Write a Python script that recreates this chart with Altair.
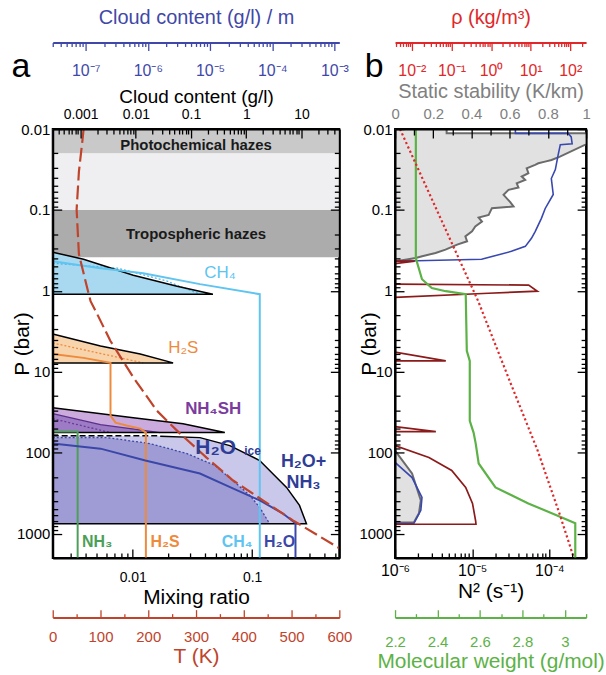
import altair as alt
import pandas as pd

FONT = "Liberation Sans"
SUP = str.maketrans("-0123456789", "⁻⁰¹²³⁴⁵⁶⁷⁸⁹")

WA, WB, H = 288, 192, 431

# ---------------- axis domains ----------------
P_DOM = [0.01, 2000]
CC_DOM = [3.13e-4, 48.4]          # cloud content (g/l)
MR_DOM = [0.00214, 0.538]         # mixing ratio
CCM_DOM = [2.95e-8, 1.2e-3]       # cloud content (g/l) / m
T_DOM = [0, 600]
SS_DOM = [0, 1]
N2_DOM = [1e-6, 3e-4]
RHO_DOM = [3.76e-3, 251.0]
MW_DOM = [2.2, 3.1]

T_TICKS = [0, 50, 100, 150, 200, 250, 300, 350, 400, 450, 500, 550, 600]
SS_TICKS = [0, 0.1, 0.2, 0.3, 0.4, 0.5, 0.6, 0.7, 0.8, 0.9, 1.0]
MW_TICKS = [2.2, 2.3, 2.4, 2.5, 2.6, 2.7, 2.8, 2.9, 3.0, 3.1]


def log_ticks(lo, hi):
    out = []
    for e in range(-9, 5):
        for m in range(1, 10):
            v = float(f"{m * 10.0 ** e:.6g}")
            if lo * 0.999 <= v <= hi * 1.001:
                out.append(v)
    return out


# ---------------- panel a data ----------------
haze_ptop = [0.01, 0.0201, 0.1]
haze_pbot = [0.0201, 0.1, 0.385]
haze_colors = ["#c9c9c9", "#efeff1", "#acacac"]
haze_text = ["Photochemical hazes", "Tropospheric hazes"]
haze_text_p = [0.0156, 0.200]

# cloud fills (cloud content g/l vs P)
ch4_fill_cc = [3.13e-4, 1.13e-3, 9.0e-3, 0.0558, 0.249]
ch4_fill_p = [0.333, 0.407, 0.641, 0.875, 1.10]
h2s_fill_cc = [3.13e-4, 2.29e-3, 0.0120, 0.0473]
h2s_fill_p = [3.41, 4.80, 6.02, 7.77]
nh4sh_fill_cc = [3.13e-4, 9.0e-3, 0.0716, 0.409]
nh4sh_fill_p = [27.8, 37.0, 43.8, 56.5]
nh4sh_core_cc = [3.13e-4, 2.29e-3, 0.0276]
nh4sh_core_p = [33.0, 45.1, 56.5]
h2o_fill_cc = [3.13e-4, 0.0276, 0.145, 0.504, 1.75, 5.36, 9.2, 12.3]
h2o_fill_p = [61.6, 62.5, 65.2, 81.8, 125, 269, 449, 757]
h2o_core_cc = [3.13e-4, 3.06e-3, 0.0182, 0.0845, 0.270, 0.570, 1.16, 1.75, 2.65]
h2o_core_p = [65.2, 65.2, 77.3, 102.6, 144, 221, 338, 475, 757]

# dotted lines inside clouds
ch4_dot_cc = [3.13e-4, 4.6e-3, 0.0369, 0.145]
ch4_dot_p = [0.456, 0.525, 0.760, 1.10]
h2s_dot_cc = [3.13e-4, 0.0136]
h2s_dot_p = [4.41, 7.77]
nh4sh_dot_cc = [3.13e-4, 3.47e-3]
nh4sh_dot_p = [38.0, 56.5]

# mixing ratio profiles
ch4_mr = [0.00214, 0.00538, 0.01227, 0.0366, 0.116, 0.116]
ch4_mr_p = [0.431, 0.525, 0.605, 0.826, 1.10, 2000]
h2s_mr = [0.00214, 0.00388, 0.00652, 0.00652, 0.00718, 0.00903, 0.0116, 0.0129, 0.0129]
h2s_mr_p = [6.02, 6.74, 7.77, 34.9, 42.6, 46.4, 50.5, 56.5, 2000]
nh3_mr = [0.00214, 0.00346, 0.00346]
nh3_mr_p = [54.9, 54.9, 2000]
h2o_mr = [0.00214, 0.00538, 0.01277, 0.0366, 0.069, 0.116, 0.180, 0.231, 0.231]
h2o_mr_p = [77.3, 89.2, 125, 181, 277, 389, 562, 747, 2000]

# temperature profile
t_K = [64.6, 61.9, 54.8, 50.0, 54.8, 72.3, 79.2, 93.1, 120.8, 169.4, 218, 266.7, 322, 377.7, 440, 502.8, 600]
t_p = [0.01, 0.0143, 0.0336, 0.0987, 0.353, 0.927, 1.34, 1.94, 4.17, 11.9, 30.3, 58.2, 115, 221, 389, 687, 1517]

# ---------------- panel b data ----------------
ss_g1 = [0.27, 0.27, 1.1, 1.1, 0.993, 0.863, 0.819, 0.785, 0.75, 0.733, 0.689, 0.698, 0.663, 0.681,
         0.637, 0.646, 0.594, 0.568, 0.603, 0.620, 0.507, 0.490, 0.4375, 0.455, 0.420, 0.403, 0.368,
         0.377, 0.325, 0.264, 0.212, 0.142, 0.108, 0.007, 0.0]
ss_g1_p = [0.01, 0.0113, 0.0113, 0.0155, 0.0157, 0.0219, 0.0241, 0.0253, 0.0265, 0.0277, 0.0305, 0.0352,
           0.0387, 0.0425, 0.0468, 0.0528, 0.0564, 0.0650, 0.0801, 0.0906, 0.0950, 0.115, 0.124, 0.139,
           0.160, 0.184, 0.212, 0.244, 0.268, 0.309, 0.340, 0.374, 0.393, 0.431, 0.44]
ss_g2 = [0.0, 0.089, 0.135, 0.125, 0.099, 0.0]
ss_g2_p = [94.2, 181, 389, 562, 726, 730]
ss_b1 = [0.630, 0.630, 0.906, 0.922, 0.927, 0.865, 0.854, 0.839, 0.818, 0.828, 0.786, 0.766, 0.734,
         0.714, 0.682, 0.609, 0.453, 0.229, 0.005]
ss_b1_p = [0.01, 0.0113, 0.0113, 0.0125, 0.0152, 0.0156, 0.0207, 0.0317, 0.0409, 0.0644, 0.0959, 0.127,
           0.184, 0.224, 0.282, 0.325, 0.407, 0.419, 0.431]
ss_b2 = [0.0, 0.089, 0.141, 0.135, 0.099, 0.0]
ss_b2_p = [132, 203, 357, 516, 747, 750]

n2_s1 = [5e-7, 1.8e-6, 5e-7]
n2_s1_p = [0.50, 0.43, 0.43]
n2_s2 = [5e-7, 5.4e-5, 7.0e-5, 1.63e-5, 5e-7]
n2_s2_p = [0.82, 0.85, 1.01, 1.07, 1.24]
n2_s3 = [5e-7, 4.55e-6, 5e-7]
n2_s3_p = [5.1, 7.35, 7.35]
n2_s4 = [5e-7, 3.38e-6, 5e-7]
n2_s4_p = [44.0, 54.9, 54.9]
n2_s5 = [5e-7, 1.0e-6, 2.75e-6, 5.43e-6, 8.24e-6, 1.01e-5, 1.11e-5, 1.12e-5, 5e-7]
n2_s5_p = [76.0, 81.8, 115, 166, 269, 424, 700, 767, 767]

mw = [2.298, 2.298, 2.327, 2.373, 2.439, 2.533, 2.538, 2.552, 2.552, 2.570, 2.580, 2.594, 2.673,
      2.828, 2.983, 3.049, 3.049]
mw_p = [0.01, 0.396, 0.718, 0.925, 1.01, 1.10, 5.53, 7.35, 40.3, 56.5, 77.3, 136, 269, 424, 629, 747, 2000]

rho = [0.00501, 0.473, 3.16, 15.0, 53.1, 119]
rho_p = [0.01, 1.34, 14.1, 94.2, 562, 1905]

# ---------------- helpers ----------------
LOGDEC = "abs(log(datum.value)/LN10 - round(log(datum.value)/LN10)) < 0.01"


def sup_expr(exps):
    expr = "''"
    for e in exps:
        s = "10" + str(e).translate(SUP)
        expr = f"(round(log(datum.value)/LN10) == {e}) ? '{s}' : ({expr})"
    return f"({LOGDEC}) ? ({expr}) : ''"


def rows(name, xs, ps, key, col="black"):
    return [{"name": name, key: x, "p": p, "i": k, "col": col}
            for k, (x, p) in enumerate(zip(xs, ps))]


def frame_axis(**kw):
    base = dict(domainColor="black", domainWidth=2, tickColor="black", tickWidth=1.3,
                labelColor="black", labelFont=FONT, titleFont=FONT, titleColor="black",
                titleFontWeight="normal", labelFlush=False, labelOverlap=False, grid=False, zindex=1)
    base.update(kw)
    return alt.Axis(**base)


def extra_axis(color, **kw):
    base = dict(domainColor=color, domainWidth=2, tickColor=color, tickWidth=1.3,
                labelColor=color, labelFont=FONT, titleFont=FONT, titleColor=color,
                titleFontWeight="normal", labelFlush=False, labelOverlap=False, grid=False,
                titleBaseline="middle", labelFontSize=14, titleFontSize=20)
    base.update(kw)
    return alt.Axis(**base)


Y_SCALE = alt.Scale(type="log", domain=P_DOM, reverse=True, nice=False)
P_TICKS = log_ticks(*P_DOM)
P_LAB = f"({LOGDEC}) ? format(datum.value, '~g') : ''"
IN_LOG = {"expr": f"({LOGDEC}) ? -9 : -5"}


def y_left(title_x):
    return frame_axis(orient="left", values=P_TICKS, labelExpr=P_LAB, tickSize=IN_LOG,
                      labelPadding=12, labelFontSize=15, title="P (bar)", titleX=title_x,
                      titleBaseline="middle", titleFontSize=21)


def y_right():
    return frame_axis(orient="right", values=P_TICKS, labels=False, tickSize=IN_LOG, title=None)


def yenc(axis=None, field="p"):
    return alt.Y(f"{field}:Q", scale=Y_SCALE, axis=axis)


COLOR = alt.Color("col:N", scale=None)

CC_SCALE = alt.Scale(type="log", domain=CC_DOM, nice=False)
MR_SCALE = alt.Scale(type="log", domain=MR_DOM, nice=False)
CCM_SCALE = alt.Scale(type="log", domain=CCM_DOM, nice=False)
T_SCALE = alt.Scale(type="linear", domain=T_DOM, nice=False, zero=False)
SS_SCALE = alt.Scale(type="linear", domain=SS_DOM, nice=False, zero=False)
N2_SCALE = alt.Scale(type="log", domain=N2_DOM, nice=False)
RHO_SCALE = alt.Scale(type="log", domain=RHO_DOM, nice=False)
MW_SCALE = alt.Scale(type="linear", domain=MW_DOM, nice=False, zero=False)

# ================= panel a =================
bounds = alt.Chart(pd.DataFrame({"k": [0]})).mark_rect(opacity=0).encode(
    x=alt.value(-52), x2=alt.value(554), y=alt.value(-127), y2=alt.value(548))

haze = alt.Chart(pd.DataFrame({"p_top": haze_ptop, "p_bot": haze_pbot, "col": haze_colors})).mark_rect().encode(
    x=alt.value(0), x2=alt.value(WA),
    y=yenc(field="p_top"), y2="p_bot:Q", color=COLOR)

haze_txt = alt.Chart(pd.DataFrame({"t": haze_text, "p": haze_text_p})).mark_text(
    font=FONT, fontSize=15, fontWeight="bold", color="#1a1a1a").encode(
    x=alt.value(WA / 2), y=yenc(), text="t:N")

fill_df = pd.DataFrame(
    rows("a1", ch4_fill_cc, ch4_fill_p, "cc", "#a8d9f0")
    + rows("a2", h2s_fill_cc, h2s_fill_p, "cc", "#f8d4ad")
    + rows("a3", nh4sh_fill_cc, nh4sh_fill_p, "cc", "#cbaadd")
    + rows("a4", nh4sh_core_cc, nh4sh_core_p, "cc", "#9d7cc5")
    + rows("a5", h2o_fill_cc, h2o_fill_p, "cc", "#c9c7ea")
    + rows("a6", h2o_core_cc, h2o_core_p, "cc", "#9f9cd5"))
fill_df["cc0"] = CC_DOM[0]

cc_axis = frame_axis(orient="top", values=log_ticks(*CC_DOM), labelExpr=P_LAB, tickSize=IN_LOG,
                     labelPadding=17, labelFontSize=14, title="Cloud content (g/l)", titleY=-33,
                     titleBaseline="middle", titleFontSize=19)

fills = alt.Chart(fill_df).mark_area(orient="horizontal", clip=True).encode(
    x=alt.X("cc:Q", scale=CC_SCALE, axis=cc_axis, stack=None),
    x2="cc0:Q", y=yenc(y_left(-30)), detail="name:N", color=COLOR)

dot_df = pd.DataFrame(
    rows("d1", ch4_dot_cc, ch4_dot_p, "cc", "#4fb6e6")
    + rows("d2", h2s_dot_cc, h2s_dot_p, "cc", "#ee8a3c")
    + rows("d3", nh4sh_dot_cc, nh4sh_dot_p, "cc", "#6a3a9a")
    + rows("d4", h2o_core_cc, h2o_core_p, "cc", "#3b47a8"))
dots = alt.Chart(dot_df).mark_line(strokeDash=[2, 2], strokeWidth=1.3, clip=True).encode(
    x=alt.X("cc:Q", scale=CC_SCALE, axis=None), y=yenc(), order="i:Q", detail="name:N", color=COLOR)

core_line = alt.Chart(pd.DataFrame(rows("c", nh4sh_core_cc, nh4sh_core_p, "cc"))).mark_line(
    strokeWidth=1.3, color="#5c2f8a", clip=True).encode(
    x=alt.X("cc:Q", scale=CC_SCALE, axis=None), y=yenc(), order="i:Q")

out_df = pd.DataFrame(
    rows("o1", ch4_fill_cc + [CC_DOM[0]], ch4_fill_p + [1.10], "cc")
    + rows("o2", h2s_fill_cc + [CC_DOM[0]], h2s_fill_p + [7.77], "cc")
    + rows("o3", nh4sh_fill_cc + [CC_DOM[0]], nh4sh_fill_p + [56.5], "cc")
    + rows("o4", h2o_fill_cc[1:] + [CC_DOM[0]], h2o_fill_p[1:] + [757], "cc"))
outlines = alt.Chart(out_df).mark_line(strokeWidth=1.5, color="black", clip=True).encode(
    x=alt.X("cc:Q", scale=CC_SCALE, axis=None), y=yenc(), order="i:Q", detail="name:N")

dashed = alt.Chart(pd.DataFrame(rows("h", [CC_DOM[0], 0.0276], [61.6, 61.6], "cc"))).mark_line(
    strokeWidth=1.5, color="black", strokeDash=[6, 3], clip=True).encode(
    x=alt.X("cc:Q", scale=CC_SCALE, axis=None), y=yenc(), order="i:Q")

mr_df = pd.DataFrame(
    rows("CH4", ch4_mr, ch4_mr_p, "mr", "#5ec4f0") + rows("H2S", h2s_mr, h2s_mr_p, "mr", "#ee8a3c")
    + rows("NH3", nh3_mr, nh3_mr_p, "mr", "#4c9f58") + rows("H2O", h2o_mr, h2o_mr_p, "mr", "#3b47a8"))
mr_axis = frame_axis(orient="bottom", values=log_ticks(*MR_DOM), labelExpr=P_LAB, tickSize=IN_LOG,
                     labelPadding=22, labelFontSize=14, title="Mixing ratio", titleY=40,
                     titleBaseline="middle", titleFontSize=21)
mr_lines = alt.Chart(mr_df).mark_line(strokeWidth=2, clip=True).encode(
    x=alt.X("mr:Q", scale=MR_SCALE, axis=mr_axis), y=yenc(y_right()), order="i:Q", detail="name:N",
    color=COLOR)

T_COL = "#c0432b"
t_axis = extra_axis(T_COL, orient="bottom", offset=60, values=T_TICKS,
                    labelExpr="datum.value % 100 == 0 ? '' + datum.value : ''",
                    tickSize={"expr": "datum.value % 100 == 0 ? -8 : -4"}, labelPadding=20,
                    labelFontSize=15, title="T (K)", titleY=39, titleFontSize=21)
t_line = alt.Chart(pd.DataFrame({"T": t_K, "p": t_p, "i": list(range(len(t_K)))})).mark_line(
    strokeWidth=2.2, strokeDash=[14, 5], color=T_COL, clip=True).encode(
    x=alt.X("T:Q", scale=T_SCALE, axis=t_axis), y=yenc(), order="i:Q")

B_COL = "#3f48a8"
ccm_axis = extra_axis(B_COL, orient="bottom", offset=-518, values=log_ticks(*CCM_DOM),
                      labelExpr=sup_expr([-8, -7, -6, -5, -4, -3]),
                      tickSize={"expr": f"({LOGDEC}) ? 8 : 4"}, labelPadding=12, labelFontSize=16,
                      title="Cloud content (g/l) / m", titleY=-25, titleFontSize=20)
ccm_dummy = alt.Chart(pd.DataFrame({"ccm": CCM_DOM, "p": [1.0, 1.0]})).mark_point(opacity=0).encode(
    x=alt.X("ccm:Q", scale=CCM_SCALE, axis=ccm_axis), y=yenc())

lab_norm = pd.DataFrame({
    "t": ["CH₄", "H₂S"], "mr": [0.0538, 0.0265], "p": [0.605, 5.06],
    "col": ["#5ec4f0", "#ee8a3c"], "fs": [17, 17]})
lab_bold = pd.DataFrame({
    "t": ["NH₄SH", "H₂O", "ice", "H₂O+", "NH₃", "NH₃", "H₂S", "CH₄", "H₂O"],
    "mr": [0.0472, 0.0495, 0.101, 0.27, 0.27, 0.00505, 0.0187, 0.075, 0.170],
    "p": [28.6, 86.5, 95, 132, 240, 1280, 1280, 1280, 1280],
    "col": ["#7a3c9e", "#2f3d96", "#2f3d96", "#2f3d96", "#2f3d96", "#4c9f58", "#ee8a3c", "#5ec4f0", "#3b47a8"],
    "fs": [17, 21, 12, 18, 18, 16, 16, 16, 16]})


def label_layer(df, weight):
    return alt.Chart(df).mark_text(font=FONT, fontWeight=weight).encode(
        x=alt.X("mr:Q", scale=MR_SCALE, axis=None), y=yenc(), text="t:N",
        color=COLOR, size=alt.Size("fs:Q", scale=None))


def letter(txt, dx):
    return alt.Chart(pd.DataFrame({"t": [txt]})).mark_text(
        font=FONT, fontSize=34, color="black", align="center", baseline="middle").encode(
        x=alt.value(dx), y=alt.value(-62), text="t:N")


panel_a = alt.layer(
    bounds, haze, haze_txt, fills, dots, core_line, outlines, dashed, mr_lines, t_line, ccm_dummy,
    label_layer(lab_norm, "normal"), label_layer(lab_bold, "bold"), letter("a", -32)
).resolve_scale(x="independent").resolve_axis(y="independent").properties(width=WA, height=H)

# ================= panel b =================
gray_df = pd.DataFrame(rows("g1", ss_g1, ss_g1_p, "ss") + rows("g2", ss_g2, ss_g2_p, "ss"))
gray_df["ss0"] = 0.0
GRAY = "#808080"
ss_axis = frame_axis(orient="top", values=SS_TICKS,
                     labelExpr="round(datum.value*10) % 2 == 0 ? format(datum.value, '~g') : ''",
                     tickSize={"expr": "round(datum.value*10) % 2 == 0 ? -9 : -6"},
                     labelPadding=17, labelFontSize=15, labelColor=GRAY,
                     title="Static stability (K/km)", titleColor=GRAY, titleY=-38,
                     titleBaseline="middle", titleFontSize=20)
gray_fill = alt.Chart(gray_df).mark_area(orient="horizontal", clip=True, color="#e1e1e1").encode(
    x=alt.X("ss:Q", scale=SS_SCALE, axis=ss_axis, stack=None), x2="ss0:Q",
    y=yenc(y_left(-26)), detail="name:N")
gray_line = alt.Chart(gray_df).mark_line(clip=True, color="#6b6b6b", strokeWidth=2).encode(
    x=alt.X("ss:Q", scale=SS_SCALE, axis=None), y=yenc(), order="i:Q", detail="name:N")

blue_df = pd.DataFrame(rows("b1", ss_b1, ss_b1_p, "ss") + rows("b2", ss_b2, ss_b2_p, "ss"))
blue_line = alt.Chart(blue_df).mark_line(clip=True, color="#3848b0", strokeWidth=1.6).encode(
    x=alt.X("ss:Q", scale=SS_SCALE, axis=None), y=yenc(), order="i:Q", detail="name:N")

n2_df = pd.DataFrame(rows("s1", n2_s1, n2_s1_p, "n2") + rows("s2", n2_s2, n2_s2_p, "n2")
                     + rows("s3", n2_s3, n2_s3_p, "n2") + rows("s4", n2_s4, n2_s4_p, "n2")
                     + rows("s5", n2_s5, n2_s5_p, "n2"))
n2_axis = frame_axis(orient="bottom", values=log_ticks(*N2_DOM), labelExpr=sup_expr([-6, -5, -4]),
                     tickSize=IN_LOG, labelPadding=14, labelFontSize=16,
                     title="N² (s⁻¹)", titleY=34, titleBaseline="middle", titleFontSize=21)
n2_line = alt.Chart(n2_df).mark_line(clip=True, color="#8b1a1a", strokeWidth=1.7).encode(
    x=alt.X("n2:Q", scale=N2_SCALE, axis=n2_axis), y=yenc(y_right()), order="i:Q", detail="name:N")

G_COL = "#5cb246"
mw_axis = extra_axis(G_COL, orient="bottom", offset=60, values=MW_TICKS,
                     labelExpr="round(datum.value*10) % 2 == 0 ? format(datum.value, '~g') : ''",
                     tickSize={"expr": "round(datum.value*10) % 2 == 0 ? -8 : -4"},
                     labelPadding=25, labelFontSize=15, title="Molecular weight (g/mol)",
                     titleY=44, titleFontSize=21)
mw_line = alt.Chart(pd.DataFrame({"mw": mw, "p": mw_p, "i": list(range(len(mw)))})).mark_line(
    clip=True, color=G_COL, strokeWidth=2.2).encode(
    x=alt.X("mw:Q", scale=MW_SCALE, axis=mw_axis), y=yenc(), order="i:Q")

R_COL = "#e0282a"
rho_axis = extra_axis(R_COL, orient="bottom", offset=-518, values=log_ticks(*RHO_DOM),
                      labelExpr=sup_expr([-3, -2, -1, 0, 1, 2]),
                      tickSize={"expr": f"({LOGDEC}) ? 8 : 4"}, labelPadding=12, labelFontSize=16,
                      title="ρ (kg/m³)", titleY=-25, titleFontSize=20)
rho_line = alt.Chart(pd.DataFrame({"rho": rho, "p": rho_p, "i": list(range(len(rho)))})).mark_line(
    clip=True, color=R_COL, strokeWidth=2.2, strokeDash=[2.2, 2.6]).encode(
    x=alt.X("rho:Q", scale=RHO_SCALE, axis=rho_axis), y=yenc(), order="i:Q")

panel_b = alt.layer(
    gray_fill, gray_line, blue_line, n2_line, mw_line, rho_line, letter("b", -21)
).resolve_scale(x="independent").resolve_axis(y="independent").properties(width=WB, height=H)

chart = alt.hconcat(panel_a, panel_b, spacing=56, bounds="flush").properties(
    padding=0).configure(font=FONT).configure_view(stroke="black", strokeWidth=2)

chart.save("out.html", embed_options={"renderer": "svg", "actions": False})
